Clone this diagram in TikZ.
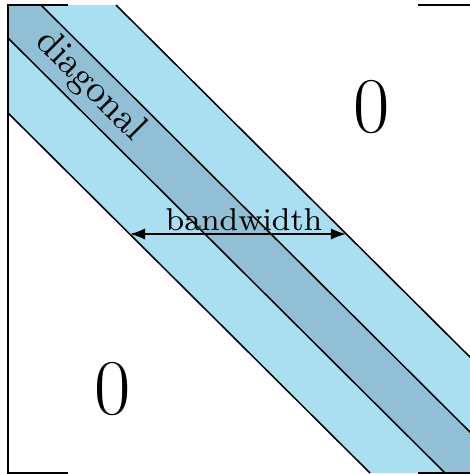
\documentclass[tikz,border=0pt]{standalone}
\usetikzlibrary{arrows.meta}
\definecolor{bandlight}{RGB}{170,222,241}
\definecolor{banddark}{RGB}{145,192,214}
\tikzset{
  edge/.style={draw=black, line width=0.4pt},
  bracket/.style={draw=black, line width=0.45pt},
  zero/.style={font=\huge, inner sep=0pt},
  lbl/.style={font=\normalsize, inner sep=1pt},
  smalllbl/.style={font=\fontsize{8.3}{10}\selectfont, inner sep=0pt},
  dim/.style={{Latex[length=4pt,width=3pt]}-{Latex[length=4pt,width=3pt]}, line width=0.45pt}
}
\begin{document}
\begin{tikzpicture}[x=0.2625pt, y=-0.2625pt]
\useasboundingbox (0,0) rectangle (470,474);
% band fills
\fill[bandlight] (8,5) -- (116,5) -- (478,365) -- (478,473) -- (370,473) -- (8,113) -- cycle;
\fill[banddark] (8,5) -- (41,5) -- (478,440) -- (478,473) -- (445,473) -- (8,38) -- cycle;
% band edges
\draw[edge] (116,5) -- (478,365);
\draw[edge] (8,113) -- (370,473);
\draw[edge] (41,5) -- (478,440);
\draw[edge] (8,38) -- (445,473);
% matrix brackets
\draw[bracket] (68,5) -- (8,5) -- (8,473) -- (68,473);
\draw[bracket] (418,5) -- (478,5) -- (478,473) -- (418,473);
% labels
\node[zero] (z1) at (372,107) {0};
\node[zero] (z2) at (113,389) {0};
\node[lbl, rotate=-45] (diag) at (90,86) {diagonal};
\coordinate (bwL) at (130,234);
\coordinate (bwR) at (346,234);
\draw[dim] (bwL) -- (bwR);
\node[smalllbl, anchor=base] (bw) at (244,230) {bandwidth};
\end{tikzpicture}
\end{document}
